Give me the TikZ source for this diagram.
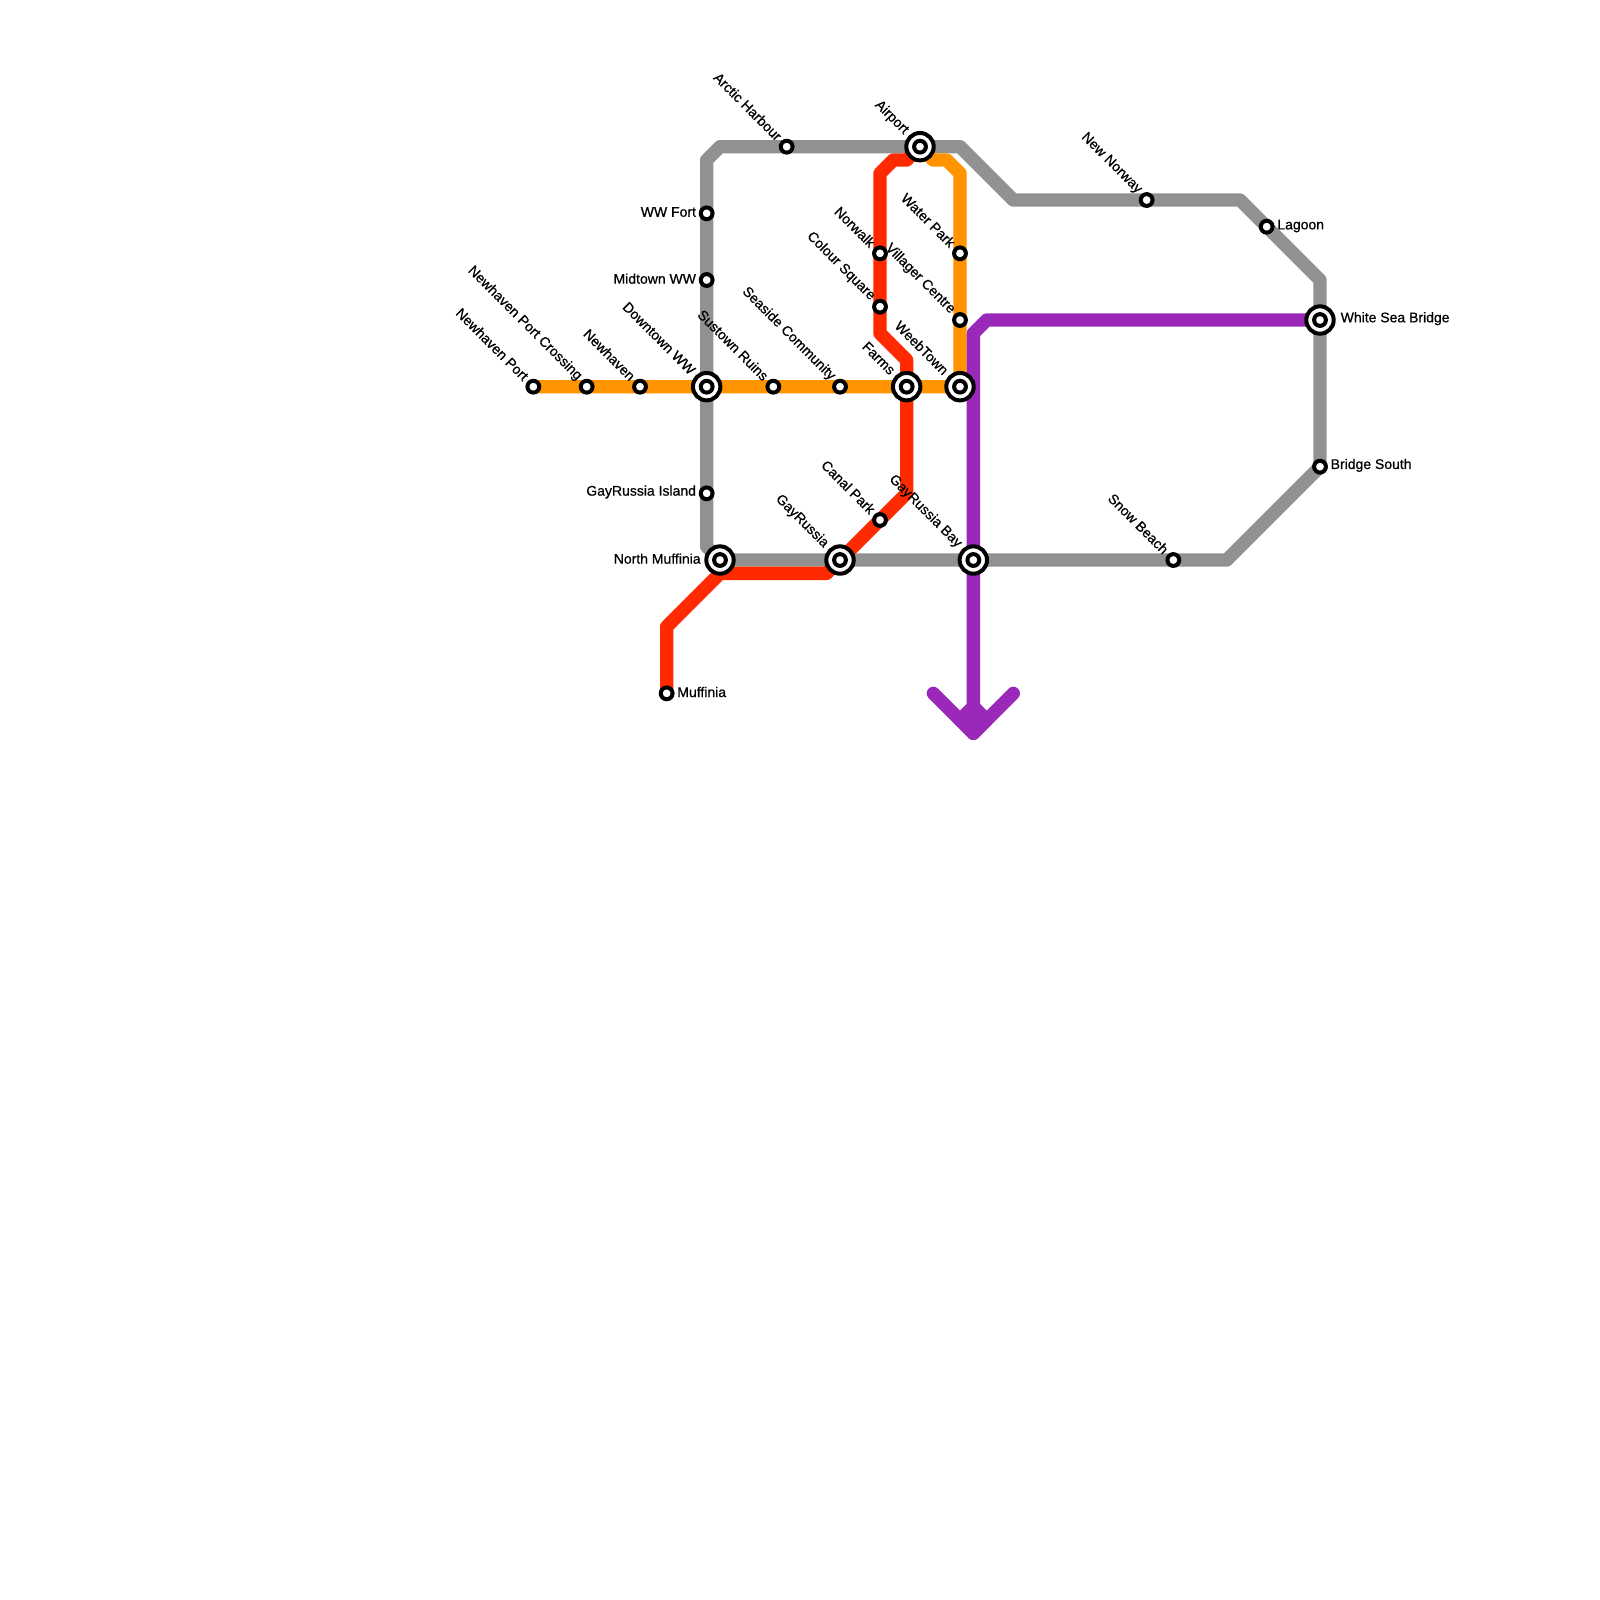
\documentclass[tikz,border=0pt]{standalone}
\usepackage{fontspec}
\setmainfont[FakeBold=0.7]{Liberation Sans}
\usetikzlibrary{backgrounds}
\definecolor{metrogrey}{HTML}{919191}
\definecolor{metrored}{HTML}{FF2A00}
\definecolor{metroorange}{HTML}{FF9300}
\definecolor{metropurple}{HTML}{9A29BA}
\tikzset{
  metroline/.style={line width=0.13333cm,line cap=round,line join=round},
  stn/.style={circle,draw=black,fill=white,line width=0.04cm,minimum size=0.118cm,inner sep=0pt,outer sep=0pt},
  hub/.style={circle,draw=black,fill=white,line width=0.04cm,minimum size=0.274cm,inner sep=0pt,outer sep=0pt},
  stnlabel/.style={font=\fontsize{3.98}{5}\selectfont,inner sep=0pt,text=black},
  labd/.style={stnlabel,rotate=-45,anchor=east},
  labl/.style={stnlabel,anchor=east},
  labr/.style={stnlabel,anchor=west},
}
\begin{document}
\begin{tikzpicture}[x=0.13333cm,y=-0.13333cm]
\useasboundingbox (0,0) rectangle (120,120);
% stations
\node[stn] (newhavenport) at (40,29) {};
\node[stn] (portcrossing) at (44,29) {};
\node[stn] (newhaven) at (48,29) {};
\node[hub] (downtown) at (53,29) {};
\node[stn] (downtownin) at (53,29) {};
\node[stn] (sustown) at (58,29) {};
\node[stn] (seaside) at (63,29) {};
\node[hub] (farms) at (68,29) {};
\node[stn] (farmsin) at (68,29) {};
\node[hub] (weebtown) at (72,29) {};
\node[stn] (weebtownin) at (72,29) {};
\node[stn] (wwfort) at (53,16) {};
\node[stn] (midtown) at (53,21) {};
\node[stn] (gayisland) at (53,37) {};
\node[hub] (northmuff) at (54,42) {};
\node[stn] (northmuffin) at (54,42) {};
\node[hub] (gayrussia) at (63,42) {};
\node[stn] (gayrussiain) at (63,42) {};
\node[hub] (gaybay) at (73,42) {};
\node[stn] (gaybayin) at (73,42) {};
\node[stn] (snowbeach) at (88,42) {};
\node[stn] (bridgesouth) at (99,35) {};
\node[hub] (whitesea) at (99,24) {};
\node[stn] (whiteseain) at (99,24) {};
\node[stn] (lagoon) at (95,17) {};
\node[stn] (newnorway) at (86,15) {};
\node[hub] (airport) at (69,11) {};
\node[stn] (airportin) at (69,11) {};
\node[stn] (arctic) at (59,11) {};
\node[stn] (norwalk) at (66,19) {};
\node[stn] (colour) at (66,23) {};
\node[stn] (waterpark) at (72,19) {};
\node[stn] (villager) at (72,24) {};
\node[stn] (canalpark) at (66,39) {};
\node[stn] (muffinia) at (50,52) {};
% labels
\node[labd] (newhavenportlab) at (39.5,28.4) {Newhaven Port};
\node[labd] (portcrossinglab) at (43.5,28.4) {Newhaven Port Crossing};
\node[labd] (newhavenlab) at (47.5,28.4) {Newhaven};
\node[labd] (downtownlab) at (52,27.95) {Downtown WW};
\node[labd] (sustownlab) at (57.5,28.4) {Sustown Ruins};
\node[labd] (seasidelab) at (62.5,28.4) {Seaside Community};
\node[labd] (farmslab) at (67,27.95) {Farms};
\node[labd] (weebtownlab) at (71,27.95) {WeebTown};
\node[labl] (wwfortlab) at (52.25,15.9) {WW Fort};
\node[labl] (midtownlab) at (52.25,20.9) {Midtown WW};
\node[labl] (gayislandlab) at (52.25,36.9) {GayRussia Island};
\node[labl] (northmufflab) at (52.6,41.9) {North Muffinia};
\node[labd] (gayrussialab) at (62,40.95) {GayRussia};
\node[labd] (gaybaylab) at (72,40.95) {GayRussia Bay};
\node[labd] (snowbeachlab) at (87.5,41.4) {Snow Beach};
\node[labr] (bridgesouthlab) at (99.75,34.9) {Bridge South};
\node[labr] (whitesealab) at (100.5,23.9) {White Sea Bridge};
\node[labr] (lagoonlab) at (95.75,16.95) {Lagoon};
\node[labd] (newnorwaylab) at (85.5,14.4) {New Norway};
\node[labd] (airportlab) at (68,9.95) {Airport};
\node[labd] (arcticlab) at (58.5,10.4) {Arctic Harbour};
\node[labd] (norwalklab) at (65.5,18.4) {Norwalk};
\node[labd] (colourlab) at (65.5,22.4) {Colour Square};
\node[labd] (waterparklab) at (71.5,18.4) {Water Park};
\node[labd] (villagerlab) at (71.5,23.4) {Villager Centre};
\node[labd] (canalparklab) at (65.5,38.4) {Canal Park};
\node[labr] (muffinialab) at (50.75,51.9) {Muffinia};
% bends
\coordinate (greya) at (53,41);
\coordinate (greyb) at (53,12);
\coordinate (greyc) at (54,11);
\coordinate (greyd) at (72,11);
\coordinate (greye) at (76,15);
\coordinate (greyf) at (93,15);
\coordinate (greyg) at (99,21);
\coordinate (greyh) at (92,42);
\coordinate (orangea) at (72,13);
\coordinate (orangeb) at (71,12);
\coordinate (orangec) at (70,12);
\coordinate (reda) at (50,47);
\coordinate (redb) at (54,43);
\coordinate (redc) at (62,43);
\coordinate (redd) at (68,37);
\coordinate (rede) at (68,27);
\coordinate (redf) at (66,25);
\coordinate (redg) at (66,13);
\coordinate (redh) at (67,12);
\coordinate (redi) at (68,12);
\coordinate (purplea) at (74,24);
\coordinate (purpleb) at (73,25);
\coordinate (purplec) at (73,55);
\coordinate (purpled) at (70,52);
\coordinate (purplee) at (76,52);
\coordinate (purplef) at (72,54);
\coordinate (purpleg) at (73,53);
\coordinate (purpleh) at (74,54);
\begin{pgfonlayer}{background}
% lines
\draw[metroline,metrogrey] (northmuff.center) -- (greya) -- (gayisland.center) -- (downtown.center) -- (midtown.center) -- (wwfort.center) -- (greyb) -- (greyc) -- (arctic.center) -- (airport.center) -- (greyd) -- (greye) -- (newnorway.center) -- (greyf) -- (lagoon.center) -- (greyg) -- (whitesea.center) -- (bridgesouth.center) -- (greyh) -- (snowbeach.center) -- (gaybay.center) -- (gayrussia.center) -- cycle;
\draw[metroline,metroorange] (newhavenport.center) -- (portcrossing.center) -- (newhaven.center) -- (downtown.center) -- (sustown.center) -- (seaside.center) -- (farms.center) -- (weebtown.center) -- (villager.center) -- (waterpark.center) -- (orangea) -- (orangeb) -- (orangec) -- (airport.center);
\draw[metroline,metrored] (muffinia.center) -- (reda) -- (redb) -- (redc) -- (gayrussia.center) -- (canalpark.center) -- (redd) -- (farms.center) -- (rede) -- (redf) -- (colour.center) -- (norwalk.center) -- (redg) -- (redh) -- (redi) -- (airport.center);
\draw[metroline,metropurple] (whitesea.center) -- (purplea) -- (purpleb) -- (gaybay.center) -- (purplec) -- (purpled);
\draw[metroline,metropurple] (purplee) -- (purplec);
\draw[metroline,metropurple,fill=metropurple] (purpleg) -- (purplef) -- (purplec) -- (purpleh) -- cycle;
\end{pgfonlayer}
\end{tikzpicture}
\end{document}
